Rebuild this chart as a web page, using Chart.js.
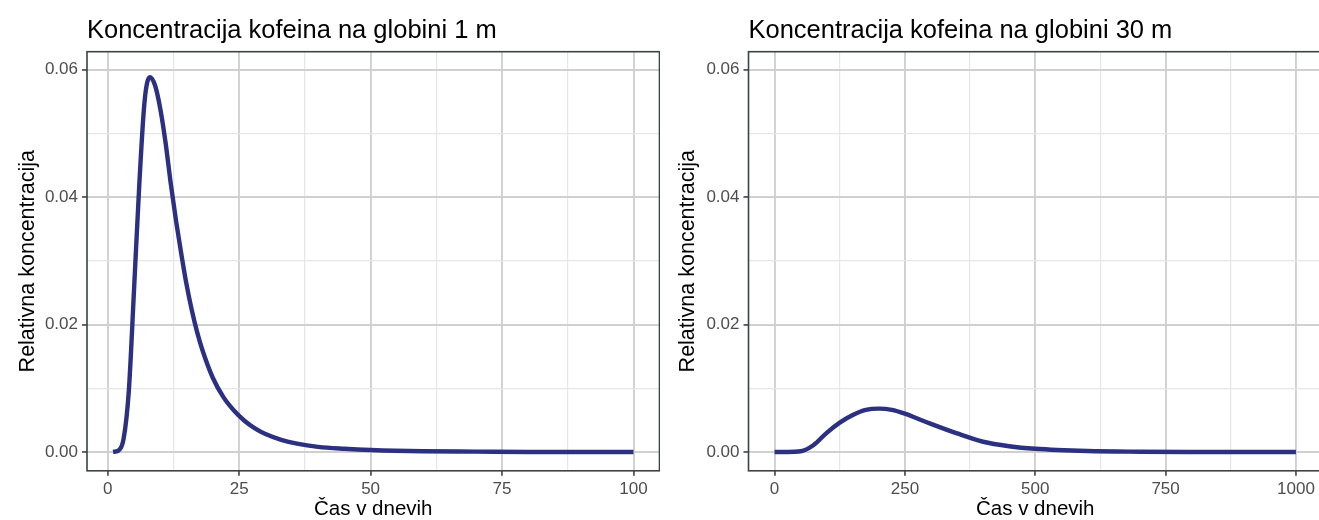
<!DOCTYPE html>
<html>
<head>
<meta charset="utf-8">
<script src="https://cdn.jsdelivr.net/npm/chart.js@4.4.1/dist/chart.umd.min.js"></script>
<style>
  html, body { margin: 0; padding: 0; background: #fff; overflow: hidden; }
  #wrap { position: relative; width: 1319px; height: 520px; overflow: hidden; }
  .panel { position: absolute; top: 0; height: 520px; }
  #panel1 { left: 0; width: 660px; }
  #panel2 { left: 660px; width: 700px; }
</style>
</head>
<body>
<div id="wrap">
  <div class="panel" id="panel1"><canvas id="chartShallow" width="660" height="520"></canvas></div>
  <div class="panel" id="panel2"><canvas id="chartDeep" width="700" height="520"></canvas></div>
</div>
<script>
// ============================================================
// Koncentracija kofeina - two panels (1 m, 30 m)
// ============================================================

// --- data ---
const daysShallow = [1, 2, 3, 4, 5, 6, 7, 8, 9, 10, 11, 12, 13, 14, 15, 16, 17, 18, 20, 22, 24, 26, 28, 30, 33, 36, 40, 45, 50, 60, 70, 80, 90, 100];
const concShallow = [0, 0.0002, 0.002, 0.0095, 0.0255, 0.042, 0.055, 0.0588, 0.0575, 0.0538, 0.0485, 0.042, 0.0362, 0.031, 0.0262, 0.0222, 0.0188, 0.016, 0.0116, 0.0086, 0.0065, 0.0049, 0.0037, 0.0028, 0.0019, 0.0013, 0.0008, 0.0005, 0.0003, 0.0001, 0.00005, 0, 0, 0];

const daysDeep = [0, 25, 50, 75, 100, 125, 150, 175, 200, 225, 250, 275, 300, 350, 400, 450, 500, 600, 700, 800, 900, 1000];
const concDeep = [0, 0, 0.0001, 0.0011, 0.0030, 0.0046, 0.0058, 0.0066, 0.0068, 0.0066, 0.0060, 0.0052, 0.0044, 0.0029, 0.0016, 0.0009, 0.0005, 0.00015, 0.00004, 0, 0, 0];

// --- ticks ---
const xMajorShallow = [0, 25, 50, 75, 100];
const xMinorShallow = [12.5, 37.5, 62.5, 87.5];
const xMajorDeep = [0, 250, 500, 750, 1000];
const xMinorDeep = [125, 375, 625, 875];
const yMajor = [0, 0.02, 0.04, 0.06];
const yMinor = [0.01, 0.03, 0.05];

// --- texts ---
const titleShallow = 'Koncentracija kofeina na globini 1 m';
const titleDeep = 'Koncentracija kofeina na globini 30 m';
const xTitle = 'Čas v dnevih';
const yTitle = 'Relativna koncentracija';

const FONT = '"Liberation Sans", Arial, Helvetica, sans-serif';
const LINE = '#2b3180';
const GRID_MAJOR = '#d0d0d0';
const GRID_MINOR = '#e6e6e6';
const AXIS = '#3b4343';

// panel title, left-aligned on the plot area
const panelTitle = {
  id: 'panelTitle',
  afterDraw(chart, args, opts) {
    const { ctx, chartArea } = chart;
    ctx.save();
    ctx.font = `${opts.size}px ${FONT}`;
    ctx.fillStyle = '#000';
    ctx.textBaseline = 'alphabetic';
    ctx.textAlign = 'left';
    ctx.fillText(opts.text, chartArea.left, opts.baseline);
    ctx.restore();
  },
};

// full frame around the panel (theme_bw)
const panelBorder = {
  id: 'panelBorder',
  afterDatasetsDraw(chart) {
    const { ctx, chartArea: a } = chart;
    ctx.save();
    ctx.strokeStyle = AXIS;
    ctx.lineWidth = 1.6;
    ctx.strokeRect(a.left, a.top, a.right - a.left, a.bottom - a.top);
    ctx.restore();
  },
};

function tickScale(major, minor) {
  const all = [...major, ...minor].sort((a, b) => a - b);
  return {
    afterBuildTicks: s => { s.ticks = all.map(v => ({ value: v })); },
    isMajor: v => major.includes(v),
  };
}

function makePanel(canvasId, cfg) {
  const xt = tickScale(cfg.xMajor, cfg.xMinor);
  const yt = tickScale(yMajor, yMinor);
  const grid = t => ({
    color: c => (t.isMajor(c.tick.value) ? GRID_MAJOR : GRID_MINOR),
    lineWidth: c => (t.isMajor(c.tick.value) ? 1.9 : 1.2),
    tickColor: c => (t.isMajor(c.tick.value) ? AXIS : 'rgba(0,0,0,0)'),
    tickLength: 5,
    tickWidth: 1.6,
  });

  return new Chart(document.getElementById(canvasId), {
    type: 'line',
    data: {
      datasets: [{
        data: cfg.days.map((d, i) => ({ x: d, y: cfg.conc[i] })),
        borderColor: LINE,
        borderWidth: 4.4,
        pointRadius: 0,
        cubicInterpolationMode: 'monotone',
        fill: false,
      }],
    },
    plugins: [panelTitle, panelBorder],
    options: {
      responsive: false,
      animation: false,
      events: [],
      layout: { padding: { left: 0, right: cfg.padRight, top: 51.7, bottom: 0 } },
      plugins: {
        legend: { display: false },
        tooltip: { enabled: false },
        panelTitle: { text: cfg.title, size: 25.5, baseline: 38 },
      },
      scales: {
        x: {
          type: 'linear',
          min: cfg.xMin,
          max: cfg.xMax,
          afterBuildTicks: xt.afterBuildTicks,
          afterFit: s => { s.height = 49.2; },
          grid: grid(xt),
          border: { display: false },
          ticks: {
            autoSkip: false,
            maxRotation: 0,
            padding: 3,
            color: '#4d4d4d',
            font: { family: FONT, size: 17 },
            callback: v => (xt.isMajor(v) ? String(v) : ''),
          },
          title: {
            display: true,
            text: xTitle,
            color: '#000',
            font: { family: FONT, size: 20.5, lineHeight: 1 },
            padding: { top: 0, bottom: 0 },
          },
        },
        y: {
          type: 'linear',
          min: -0.00296,
          max: 0.0628,
          afterBuildTicks: yt.afterBuildTicks,
          afterFit: s => { s.width = cfg.yWidth; },
          grid: grid(yt),
          border: { display: false },
          ticks: {
            autoSkip: false,
            padding: 4,
            color: '#4d4d4d',
            font: { family: FONT, size: 17 },
            callback: v => (yt.isMajor(v) ? v.toFixed(2) : ''),
          },
          title: {
            display: true,
            text: yTitle,
            color: '#000',
            font: { family: FONT, size: 21.5, lineHeight: 1.2 },
            padding: { top: 15, bottom: 0 },
          },
        },
      },
    },
  });
}

makePanel('chartShallow', {
  days: daysShallow, conc: concShallow, title: titleShallow,
  xMajor: xMajorShallow, xMinor: xMinorShallow,
  xMin: -3.95, xMax: 104.95, yWidth: 87, padRight: 0.5,
});

makePanel('chartDeep', {
  days: daysDeep, conc: concDeep, title: titleDeep,
  xMajor: xMajorDeep, xMinor: xMinorDeep,
  xMin: -50, xMax: 1050, yWidth: 88.5, padRight: 38,
});
</script>
</body>
</html>
